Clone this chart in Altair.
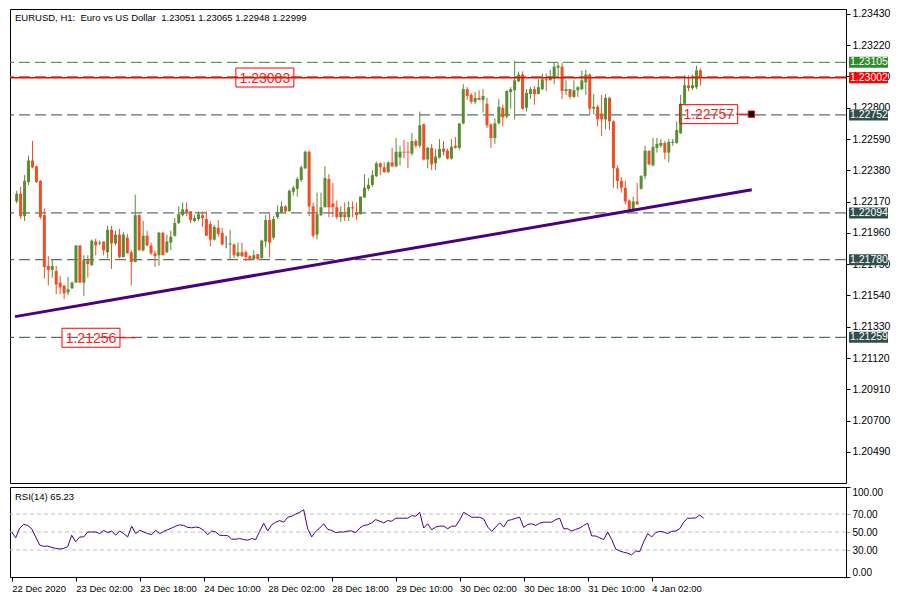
import altair as alt
import pandas as pd

# ---------------- data ----------------
opens = [1.22171,1.22223,1.22072,1.22302,1.22446,1.22407,1.22309,1.22079,1.21738,1.21712,
1.21705,1.21626,1.21607,1.21561,1.21587,1.21626,1.21876,1.21626,1.21777,1.21744,
1.21902,1.21889,1.21902,1.21830,1.21981,1.21889,1.21948,1.21797,1.21928,1.21830,
1.21764,1.22079,1.21843,1.21941,1.21876,1.21823,1.21810,1.21961,1.21830,1.21895,
1.21941,1.22026,1.22079,1.22118,1.22105,1.22040,1.22053,1.22079,1.22053,1.22020,
1.21915,1.21994,1.21961,1.21889,1.21882,1.21882,1.21804,1.21830,1.21830,1.21804,
1.21784,1.21817,1.21790,1.21902,1.22046,1.21928,1.22066,1.22099,1.22138,1.22105,
1.22236,1.22256,1.22315,1.22394,1.22505,1.22138,1.21948,1.22079,1.22132,1.22322,
1.22158,1.22132,1.22066,1.22085,1.22066,1.22132,1.22099,1.22085,1.22197,1.22256,
1.22282,1.22341,1.22427,1.22400,1.22368,1.22433,1.22407,1.22466,1.22505,1.22505,
1.22492,1.22577,1.22545,1.22689,1.22453,1.22531,1.22427,1.22466,1.22525,1.22512,
1.22459,1.22545,1.22531,1.22695,1.22925,1.22886,1.22840,1.22866,1.22853,1.22827,
1.22689,1.22597,1.22695,1.22800,1.22741,1.22905,1.22918,1.22978,1.23023,1.22800,
1.22892,1.22925,1.22892,1.22925,1.22991,1.22984,1.22997,1.23069,1.23076,1.22912,
1.22925,1.22873,1.22918,1.22925,1.22971,1.23023,1.22794,1.22807,1.22761,1.22722,
1.22866,1.22709,1.22394,1.22309,1.22263,1.22177,1.22105,1.22171,1.22256,1.22341,
1.22512,1.22413,1.22531,1.22545,1.22564,1.22499,1.22564,1.22564,1.22630,1.22827,
1.22951,1.22932,1.22938,1.23051]

highs = [1.22243,1.22269,1.22348,1.22479,1.22577,1.22413,1.22315,1.22125,1.21804,1.21784,
1.21738,1.21672,1.21607,1.21666,1.21633,1.21876,1.21876,1.21810,1.21810,1.21915,
1.21922,1.21908,1.21902,1.22007,1.22007,1.21974,1.21987,1.21967,1.21954,1.21843,
1.22217,1.22085,1.22040,1.21974,1.21895,1.21843,1.21967,1.21967,1.21948,1.21974,
1.22059,1.22138,1.22164,1.22164,1.22105,1.22079,1.22105,1.22105,1.22105,1.22040,
1.22013,1.22046,1.21994,1.21941,1.21981,1.21889,1.21895,1.21895,1.21843,1.21810,
1.21843,1.21817,1.21915,1.22079,1.22092,1.22072,1.22145,1.22171,1.22145,1.22250,
1.22276,1.22335,1.22413,1.22512,1.22512,1.22164,1.22230,1.22230,1.22407,1.22354,
1.22295,1.22177,1.22138,1.22164,1.22171,1.22171,1.22164,1.22204,1.22354,1.22328,
1.22381,1.22440,1.22433,1.22433,1.22440,1.22531,1.22597,1.22545,1.22584,1.22571,
1.22630,1.22590,1.22774,1.22695,1.22538,1.22558,1.22525,1.22590,1.22577,1.22525,
1.22590,1.22604,1.22695,1.22958,1.22938,1.22899,1.22905,1.22918,1.22925,1.22866,
1.22695,1.22728,1.22859,1.22820,1.22918,1.22938,1.23115,1.23043,1.23043,1.22925,
1.22938,1.22945,1.22991,1.23030,1.23030,1.23056,1.23102,1.23102,1.23102,1.22984,
1.22925,1.22984,1.22945,1.23050,1.23056,1.23030,1.22892,1.22820,1.22886,1.22892,
1.22873,1.22715,1.22413,1.22335,1.22309,1.22184,1.22204,1.22295,1.22348,1.22545,
1.22512,1.22597,1.22597,1.22590,1.22577,1.22590,1.22590,1.22709,1.22886,1.23017,
1.23017,1.23023,1.23082,1.23065]

lows = [1.22158,1.22053,1.22040,1.22282,1.22394,1.22295,1.22053,1.21653,1.21607,1.21659,
1.21548,1.21548,1.21515,1.21541,1.21587,1.21626,1.21626,1.21535,1.21659,1.21738,
1.21810,1.21876,1.21810,1.21790,1.21718,1.21876,1.21790,1.21797,1.21823,1.21607,
1.21764,1.21843,1.21836,1.21869,1.21810,1.21731,1.21738,1.21810,1.21823,1.21843,
1.21935,1.22020,1.22072,1.22072,1.22026,1.22033,1.22040,1.22000,1.21941,1.21869,
1.21908,1.21935,1.21876,1.21856,1.21777,1.21790,1.21797,1.21797,1.21771,1.21777,
1.21777,1.21777,1.21790,1.21863,1.21797,1.21915,1.22053,1.22092,1.22092,1.22105,
1.22210,1.22204,1.22302,1.22387,1.22072,1.21928,1.21915,1.22072,1.22132,1.22066,
1.22066,1.22053,1.22033,1.22040,1.22040,1.22066,1.22046,1.22085,1.22197,1.22243,
1.22269,1.22335,1.22348,1.22361,1.22361,1.22400,1.22400,1.22413,1.22459,1.22394,
1.22479,1.22531,1.22531,1.22446,1.22394,1.22381,1.22381,1.22459,1.22479,1.22453,
1.22453,1.22525,1.22518,1.22689,1.22853,1.22827,1.22827,1.22853,1.22768,1.22663,
1.22531,1.22558,1.22689,1.22676,1.22728,1.22794,1.22722,1.22971,1.22787,1.22774,
1.22859,1.22820,1.22892,1.22918,1.22912,1.22984,1.22958,1.23004,1.22859,1.22886,
1.22859,1.22866,1.22873,1.22918,1.22886,1.22755,1.22755,1.22676,1.22610,1.22656,
1.22650,1.22263,1.22256,1.22230,1.22151,1.22105,1.22105,1.22151,1.22250,1.22322,
1.22413,1.22407,1.22499,1.22531,1.22453,1.22433,1.22545,1.22558,1.22623,1.22820,
1.22912,1.22918,1.22925,1.22948]

closes = [1.22223,1.22072,1.22309,1.22446,1.22400,1.22302,1.22066,1.21731,1.21712,1.21738,
1.21613,1.21594,1.21554,1.21580,1.21626,1.21876,1.21626,1.21777,1.21751,1.21908,
1.21876,1.21895,1.21843,1.21981,1.21889,1.21948,1.21797,1.21948,1.21823,1.21764,
1.22079,1.21843,1.21941,1.21876,1.21823,1.21804,1.21961,1.21810,1.21902,1.21935,
1.22026,1.22085,1.22118,1.22099,1.22046,1.22059,1.22085,1.22059,1.21941,1.21915,
1.22000,1.21954,1.21882,1.21889,1.21889,1.21810,1.21830,1.21804,1.21797,1.21784,
1.21810,1.21784,1.21908,1.22046,1.21895,1.22053,1.22099,1.22138,1.22105,1.22243,
1.22263,1.22322,1.22400,1.22505,1.22138,1.21941,1.22085,1.22132,1.22328,1.22132,
1.22132,1.22066,1.22099,1.22066,1.22132,1.22125,1.22079,1.22204,1.22263,1.22282,
1.22348,1.22427,1.22400,1.22368,1.22433,1.22407,1.22505,1.22505,1.22499,1.22499,
1.22577,1.22545,1.22682,1.22453,1.22531,1.22420,1.22472,1.22525,1.22505,1.22459,
1.22538,1.22531,1.22695,1.22925,1.22879,1.22840,1.22866,1.22853,1.22879,1.22682,
1.22597,1.22695,1.22807,1.22735,1.22912,1.22925,1.22984,1.23023,1.22794,1.22899,
1.22925,1.22892,1.22938,1.22991,1.22984,1.23010,1.23076,1.23082,1.22912,1.22925,
1.22873,1.22918,1.22938,1.22984,1.23023,1.22794,1.22807,1.22722,1.22722,1.22866,
1.22709,1.22394,1.22309,1.22263,1.22171,1.22105,1.22171,1.22151,1.22341,1.22512,
1.22420,1.22538,1.22558,1.22564,1.22499,1.22571,1.22571,1.22650,1.22827,1.22951,
1.22932,1.22951,1.23050,1.22999]

rsi = [50.0,43.5,54.4,58.4,57.3,53.6,44.5,35.5,34.0,34.4,
32.9,31.8,31.1,31.8,33.6,46.4,39.1,44.5,44.5,50.0,
50.0,50.0,48.2,51.8,49.3,51.1,46.4,51.1,48.2,44.5,
56.5,48.2,51.8,50.0,48.2,47.1,51.8,48.2,50.7,52.5,
54.4,56.5,58.0,57.3,55.1,54.7,55.5,54.7,51.8,47.1,
51.1,50.0,46.4,46.0,46.0,42.0,42.0,42.7,41.6,40.9,
42.7,41.6,50.7,59.8,51.1,58.0,60.9,62.7,60.9,66.4,
67.5,70.0,71.8,74.7,53.6,44.5,50.7,54.4,59.1,52.9,
51.8,49.3,50.0,50.0,51.1,51.1,49.3,54.4,57.3,58.0,
60.2,63.8,62.0,60.2,62.7,62.0,65.3,65.3,65.3,65.3,
68.2,67.5,71.8,54.4,59.1,52.5,55.5,56.5,56.5,53.6,
56.5,56.5,63.5,71.8,69.3,66.4,66.4,66.4,64.5,55.5,
50.7,55.5,60.2,55.5,62.7,63.8,65.3,66.4,55.1,58.4,
59.1,57.3,59.8,60.9,60.9,60.9,63.8,65.3,53.6,53.6,
51.1,52.9,54.4,57.3,59.8,45.6,45.6,43.5,41.6,50.0,
41.6,31.1,28.9,27.5,26.4,24.5,28.9,28.2,39.1,48.2,
44.5,49.3,50.7,50.0,48.2,50.7,51.1,53.6,60.9,65.3,
65.3,65.6,68.9,65.23]

time_tick_bars = [0, 16, 32, 48, 64, 80, 96, 112, 128, 144, 160]
time_tick_labels = ["22 Dec 2020", "23 Dec 02:00", "23 Dec 18:00", "24 Dec 10:00",
                    "28 Dec 02:00", "28 Dec 18:00", "29 Dec 10:00", "30 Dec 02:00",
                    "30 Dec 18:00", "31 Dec 10:00", "4 Jan 02:00"]

price_ticks = [1.23430, 1.23220, 1.23010, 1.22800, 1.22590, 1.22380, 1.22170, 1.21960,
               1.21750, 1.21540, 1.21330, 1.21120, 1.20910, 1.20700, 1.20490]
rsi_ticks = [0, 30, 50, 70, 100]
rsi_levels = [30, 50, 70]

level_prices = [1.23105, 1.23008, 1.22752, 1.22094, 1.21780, 1.21259]
level_kind = ["green", "green", "slate", "slate", "slate", "slate"]
red_line_price = [1.23002]

tag_prices = [1.23105, 1.23002, 1.22752, 1.22094, 1.21780, 1.21259]
tag_kind = ["green", "red", "slate", "slate", "slate", "slate"]

trend_bar = [-0.425, 186.0]
trend_price = [1.21398, 1.22249]

note_text = ["1.23003", "1.21256", "1.22757"]
note_bar = [62.8, 18.8, 175.1]
note_price = [1.23003, 1.21256, 1.22757]
link_bar_from = [26.1, 182.0]
link_bar_to = [30.1, 185.9]
link_price = [1.21256, 1.22757]
marker_bar = [185.9]
marker_price = [1.22757]

title_text = "EURUSD, H1:\u00a0 Euro vs US Dollar\u00a0 1.23051 1.23065 1.22948 1.22999"
rsi_title = "RSI(14) 65.23"

# ---------------- styling ----------------
FONT = "Liberation Sans"
W, H_MAIN, H_RSI = 836, 474, 90
X_DOMAIN = [-0.425, 208.575]
P_DOMAIN = [1.20281, 1.23463]
GREEN, RED, SLATE = "#5a8c32", "#f04e23", "#2f4f4f"
kind_colors = {"green": "#2e8b2e", "red": "#ff0000", "slate": SLATE}

xs = alt.Scale(domain=X_DOMAIN, nice=False, zero=False)
ps = alt.Scale(domain=P_DOMAIN, nice=False, zero=False)
rs = alt.Scale(domain=[0, 100], nice=False, zero=False)

df = pd.DataFrame({"bar": range(len(opens)), "o": opens, "h": highs, "l": lows, "c": closes})
df["dir"] = ["up" if c > o else ("down" if c < o else "flat") for o, c in zip(opens, closes)]
dir_scale = alt.Scale(domain=["up", "down", "flat"], range=[GREEN, RED, SLATE])

price_axis = alt.Axis(orient="right", values=price_ticks, tickCount=100, format=".5f",
                      title=None, grid=False, tickSize=4, labelPadding=2, labelFont=FONT,
                      labelFontSize=10.5, labelColor="black", tickColor="black",
                      domainColor="black", labelOverlap=False, labelFlush=False, zindex=0)

levels = alt.Chart(pd.DataFrame({"p": level_prices,
                                 "col": [kind_colors[k] for k in level_kind]})).mark_rule(
    strokeWidth=1, strokeDash=[11, 5]).encode(
    y=alt.Y("p:Q", scale=ps, axis=price_axis),
    color=alt.Color("col:N", scale=None))

wicks = alt.Chart(df).mark_rule(strokeWidth=1).encode(
    x=alt.X("bar:Q", scale=xs, axis=None),
    y=alt.Y("l:Q", scale=ps),
    y2="h:Q",
    color=alt.Color("dir:N", scale=dir_scale, legend=None))

bodies = alt.Chart(df).mark_bar(size=3).encode(
    x=alt.X("bar:Q", scale=xs, axis=None),
    y=alt.Y("o:Q", scale=ps),
    y2="c:Q",
    color=alt.Color("dir:N", scale=dir_scale, legend=None))

red_line = alt.Chart(pd.DataFrame({"p": red_line_price})).mark_rule(
    color="#ff0000", strokeWidth=1.5).encode(y=alt.Y("p:Q", scale=ps))

trend = alt.Chart(pd.DataFrame({"bar": trend_bar, "p": trend_price})).mark_line(
    color="#4b0082", strokeWidth=3).encode(
    x=alt.X("bar:Q", scale=xs), y=alt.Y("p:Q", scale=ps))

notes_df = pd.DataFrame({"bar": note_bar, "p": note_price, "t": note_text})
note_boxes = alt.Chart(notes_df).mark_rect(
    filled=False, stroke="#ff0000", strokeWidth=1, width=58, height=19).encode(
    x=alt.X("bar:Q", scale=xs), y=alt.Y("p:Q", scale=ps))
note_texts = alt.Chart(notes_df).mark_text(
    font=FONT, fontSize=14, color="#ff1a1a", align="center", baseline="middle", dy=1).encode(
    x=alt.X("bar:Q", scale=xs), y=alt.Y("p:Q", scale=ps), text="t:N")

links = alt.Chart(pd.DataFrame({"a": link_bar_from, "b": link_bar_to, "p": link_price})).mark_rule(
    color="#ff0000", strokeWidth=1).encode(
    x=alt.X("a:Q", scale=xs), x2="b:Q", y=alt.Y("p:Q", scale=ps))

marker = alt.Chart(pd.DataFrame({"bar": marker_bar, "p": marker_price})).mark_point(
    shape="square", size=40, filled=True, fill="black", stroke="#ff0000", strokeWidth=1,
    opacity=1).encode(x=alt.X("bar:Q", scale=xs), y=alt.Y("p:Q", scale=ps))

tags_df = pd.DataFrame({"p": tag_prices, "col": [kind_colors[k] for k in tag_kind],
                        "t": [f"{v:.5f}" for v in tag_prices]})
tag_boxes = alt.Chart(tags_df).mark_rect(height=11).encode(
    x=alt.value(W + 3), x2=alt.value(W + 42),
    y=alt.Y("p:Q", scale=ps),
    color=alt.Color("col:N", scale=None))
tag_texts = alt.Chart(tags_df).mark_text(
    font=FONT, fontSize=10.5, color="white", align="left", baseline="middle").encode(
    x=alt.value(W + 4), y=alt.Y("p:Q", scale=ps), text="t:N")

title = alt.Chart(pd.DataFrame({"t": [title_text]})).mark_text(
    font=FONT, fontSize=9.5, color="black", align="left", baseline="alphabetic").encode(
    x=alt.value(5), y=alt.value(12), text="t:N")

main = alt.layer(levels, wicks, bodies, red_line, trend, note_boxes, note_texts, links,
                 marker, tag_boxes, tag_texts, title).properties(width=W, height=H_MAIN)

# ---------------- RSI panel ----------------
label_expr = "''"
for v, lab in reversed(list(zip(time_tick_bars, time_tick_labels))):
    label_expr = f"datum.value == {v} ? '{lab}' : ({label_expr})"

time_axis = alt.Axis(orient="bottom", values=time_tick_bars, tickCount=100, labelExpr=label_expr,
                     title=None, grid=False, tickSize=4, labelAlign="left", labelBaseline="top",
                     labelPadding=2, labelFont=FONT, labelFontSize=9.5, labelColor="black",
                     tickColor="black", domainColor="black", labelOverlap=False,
                     labelFlush=False, labelBound=False, zindex=0)
rsi_axis = alt.Axis(orient="right", values=rsi_ticks, tickCount=100, format=".2f", title=None,
                    grid=False, tickSize=4, labelPadding=2, labelFont=FONT, labelFontSize=10,
                    labelColor="black", domainColor="black",
                    tickColor=alt.condition("datum.value == 0 || datum.value == 100",
                                            alt.value("black"), alt.value("#a0a0a0")),
                    labelOverlap=False, labelFlush=True, labelFlushOffset=0, zindex=0)

rsi_df = pd.DataFrame({"bar": range(len(rsi)), "v": rsi})
rsi_lv = alt.Chart(pd.DataFrame({"v": rsi_levels})).mark_rule(
    color="#c0c0c0", strokeWidth=1, strokeDash=[4, 3]).encode(
    y=alt.Y("v:Q", scale=rs, axis=rsi_axis))
rsi_line = alt.Chart(rsi_df).mark_line(color="#4b0082", strokeWidth=1).encode(
    x=alt.X("bar:Q", scale=xs, axis=time_axis),
    y=alt.Y("v:Q", scale=rs))
rsi_label = alt.Chart(pd.DataFrame({"t": [rsi_title]})).mark_text(
    font=FONT, fontSize=9.5, color="black", align="left", baseline="alphabetic").encode(
    x=alt.value(5), y=alt.value(13), text="t:N")

rsi_panel = alt.layer(rsi_lv, rsi_line, rsi_label).properties(width=W, height=H_RSI)

chart = alt.vconcat(main, rsi_panel, spacing=2).properties(
    padding={"left": 0, "top": 0, "right": 0, "bottom": 0}, background="white"
).configure_view(stroke="black", strokeWidth=1)

chart.save("out.html", embed_options={"renderer": "svg", "actions": False})
